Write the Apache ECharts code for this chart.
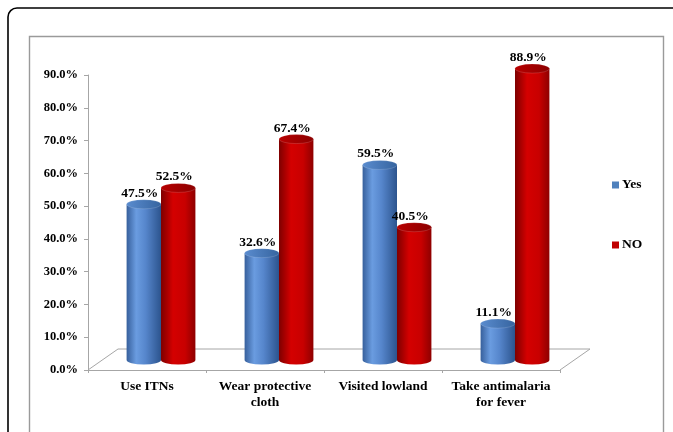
<!DOCTYPE html>
<html>
<head>
<meta charset="utf-8">
<style>
  html, body { margin: 0; padding: 0; background: #ffffff; }
  #chart { width: 673px; height: 432px; }
</style>
<script src="https://cdn.jsdelivr.net/npm/echarts@6/dist/echarts.min.js"></script>
</head>
<body>
<div id="chart"></div>
<script>
// Malaria prevention practices: share of respondents answering Yes / NO
const categories = ['Use ITNs', 'Wear protective\ncloth', 'Visited lowland', 'Take antimalaria\nfor fever'];
const yesValues = [47.5, 32.6, 59.5, 11.1];
const noValues = [52.5, 67.4, 40.5, 88.9];
const yTicks = [0, 10, 20, 30, 40, 50, 60, 70, 80, 90];

const FONT = '"Liberation Serif", "Times New Roman", serif';

// pseudo-3D depth of the floor and the cylinders standing on it
const DEPTH_X = 30, DEPTH_Y = -21;
const CYL_DX = 14, CYL_DY = -10;
const CYL_R = 17.2, CYL_RY = 4.5;

const palettes = {
  Yes: {
    legend: '#4f81bd',
    body: [[0, '#37609c'], [0.28, '#6a9ce0'], [0.55, '#5686cc'], [1, '#2c548e']],
    top: [[0, '#5a8ccf'], [1, '#36649f']]
  },
  NO: {
    legend: '#c00000',
    body: [[0, '#7e0000'], [0.35, '#d40000'], [0.7, '#c80000'], [1, '#8e0000']],
    top: [[0, '#b80000'], [1, '#8c0000']]
  }
};

function lin(stops) {
  return {
    type: 'linear', x: 0, y: 0, x2: 1, y2: 0,
    colorStops: stops.map(s => ({ offset: s[0], color: s[1] }))
  };
}

function cylinderRenderer(name, side) {
  const pal = palettes[name];
  return function (params, api) {
    const cat = api.value(0);
    const val = api.value(1);
    const top = api.coord([cat, val]);
    const base = api.coord([cat, 0]);
    const cx = top[0] + side * CYL_R + CYL_DX;
    const topY = top[1] + CYL_DY;
    const baseY = base[1] + CYL_DY;
    const r = CYL_R, ry = CYL_RY;
    const bodyPath =
      'M' + (cx - r) + ' ' + topY +
      ' L' + (cx - r) + ' ' + baseY +
      ' A' + r + ' ' + ry + ' 0 0 0 ' + (cx + r) + ' ' + baseY +
      ' L' + (cx + r) + ' ' + topY + ' Z';
    const capPath =
      'M' + (cx - r) + ' ' + topY +
      ' A' + r + ' ' + ry + ' 0 1 0 ' + (cx + r) + ' ' + topY +
      ' A' + r + ' ' + ry + ' 0 1 0 ' + (cx - r) + ' ' + topY + ' Z';
    return {
      type: 'group',
      children: [
        { type: 'path', shape: { pathData: bodyPath }, style: { fill: lin(pal.body) } },
        { type: 'path', shape: { pathData: capPath }, style: { fill: lin(pal.top), stroke: 'rgba(255,255,255,0.25)', lineWidth: 0.6 } },
        {
          type: 'text',
          style: {
            x: cx - 4, y: topY - 11,
            text: val.toFixed(1) + '%',
            fill: '#000', font: 'bold 13.5px ' + FONT,
            align: 'center', verticalAlign: 'middle'
          }
        }
      ]
    };
  };
}

function floorRenderer(params) {
  const cs = params.coordSys;
  const x0 = cs.x, y0 = cs.y + cs.height, x1 = cs.x + cs.width;
  return {
    type: 'polyline',
    shape: {
      points: [
        [x0, y0], [x0 + DEPTH_X, y0 + DEPTH_Y],
        [x1 + DEPTH_X, y0 + DEPTH_Y], [x1, y0]
      ]
    },
    style: { stroke: '#a6a6a6', lineWidth: 1, fill: null }
  };
}

const chart = echarts.init(document.getElementById('chart'), null, { renderer: 'canvas' });

chart.setOption({
  animation: false,
  backgroundColor: '#ffffff',
  graphic: [
    {
      type: 'rect', silent: true, z: -10,
      shape: { x: 8, y: 8, width: 720, height: 480, r: 9 },
      style: { fill: null, stroke: '#000', lineWidth: 1.6 }
    },
    {
      type: 'rect', silent: true, z: -10,
      shape: { x: 29.5, y: 36.5, width: 634, height: 420 },
      style: { fill: null, stroke: '#9a9a9a', lineWidth: 1.4 }
    }
  ],
  grid: { left: 88, right: 113, top: 75, bottom: 62, containLabel: false },
  legend: {
    orient: 'vertical',
    left: 607, top: 173,
    itemWidth: 7, itemHeight: 7, itemGap: 46,
    icon: 'rect',
    textStyle: { fontFamily: FONT, fontWeight: 'bold', fontSize: 13.5, color: '#000', padding: [0, 0, 0, -2] },
    data: ['Yes', 'NO']
  },
  xAxis: {
    type: 'category',
    data: categories,
    boundaryGap: true,
    axisLine: { lineStyle: { color: '#a6a6a6', width: 1 } },
    axisTick: { show: true, length: 3, lineStyle: { color: '#a6a6a6' } },
    axisLabel: {
      interval: 0, margin: 9, lineHeight: 16,
      fontFamily: FONT, fontWeight: 'bold', fontSize: 13.5, color: '#000'
    },
    splitLine: { show: false }
  },
  yAxis: {
    type: 'value',
    min: yTicks[0], max: yTicks[yTicks.length - 1], interval: 10,
    axisLine: { show: true, lineStyle: { color: '#a6a6a6', width: 1 } },
    axisTick: { show: true, length: 4, lineStyle: { color: '#a6a6a6' } },
    axisLabel: {
      margin: 10,
      formatter: v => v.toFixed(1) + '%',
      fontFamily: FONT, fontWeight: 'bold', fontSize: 12.5, color: '#000'
    },
    splitLine: { show: false }
  },
  series: [
    {
      name: 'floor', type: 'custom', silent: true, z: 1,
      renderItem: floorRenderer,
      data: [[0, 0]],
      encode: { x: 0, y: 1 }
    },
    {
      name: 'Yes', type: 'custom', z: 3,
      itemStyle: { color: palettes.Yes.legend },
      renderItem: cylinderRenderer('Yes', -1),
      data: yesValues.map((v, i) => [i, v]),
      encode: { x: 0, y: 1 }
    },
    {
      name: 'NO', type: 'custom', z: 4,
      itemStyle: { color: palettes.NO.legend },
      renderItem: cylinderRenderer('NO', 1),
      data: noValues.map((v, i) => [i, v]),
      encode: { x: 0, y: 1 }
    }
  ]
});
</script>
</body>
</html>
